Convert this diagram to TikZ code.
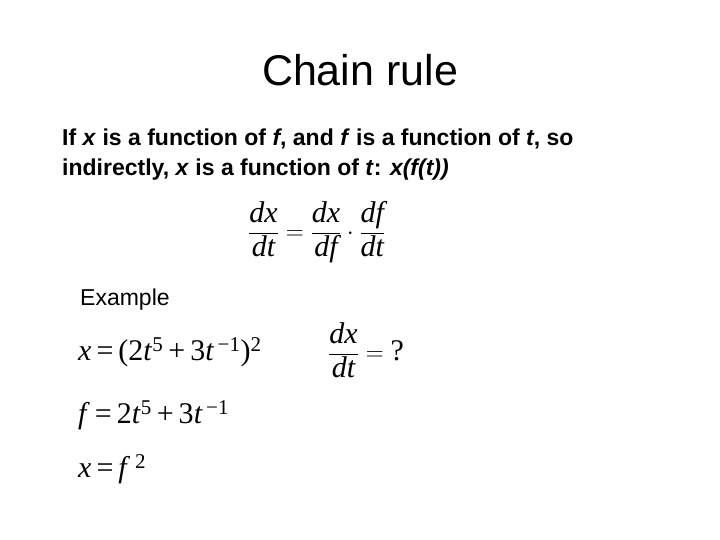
\documentclass[tikz,border=0pt]{standalone}
\usepackage{fontspec}
\setmainfont{Liberation Serif}
\newfontfamily\arial{Liberation Sans}
\newcommand{\tv}[1]{\textit{#1}}
\begin{document}
\begin{tikzpicture}[x=1pt,y=-1pt,
  eq/.style={anchor=west,inner sep=0pt,font=\fontsize{30}{34}\selectfont},
  body/.style={anchor=west,inner sep=0pt,font=\arial\bfseries\fontsize{23}{27}\selectfont}]
\useasboundingbox (0,0) rectangle (720,540);
\node[inner sep=0pt,font=\arial\fontsize{43}{48}\selectfont] (title) at (360,70) {Chain rule};
\node[body] (l1) at (62,139) {If \textit{x} is a function of \textit{f}, and \textit{f} is a function of \textit{t}, so};
\node[body] (l2) at (62,170) {indirectly, \textit{x} is a function of \textit{t}: \textit{x(f(t))}};
\node[eq] (ch) at (248,232) {$\displaystyle\frac{\tv{dx}}{\tv{dt}}=\frac{\tv{dx}}{\tv{df}}\cdot\frac{\tv{df}}{\tv{dt}}$};
\node[anchor=west,inner sep=0pt,font=\arial\fontsize{23}{27}\selectfont] (ex) at (80,300) {Example};
\node[eq] (e1) at (78,352) {\tv{x}\,=\,(2\tv{t}\textsuperscript{5}\,+\,3\tv{t}\textsuperscript{\,−1})\textsuperscript{2}};
\node[eq] (e2) at (78,415) {\tv{f}\,=\,2\tv{t}\textsuperscript{5}\,+\,3\tv{t}\textsuperscript{\,−1}};
\node[eq] (e3) at (78,469) {\tv{x}\,=\,\tv{f}\,\textsuperscript{2}};
\node[eq] (q) at (328,350) {$\displaystyle\frac{\tv{dx}}{\tv{dt}}=\mbox{?}$};
\end{tikzpicture}
\end{document}
